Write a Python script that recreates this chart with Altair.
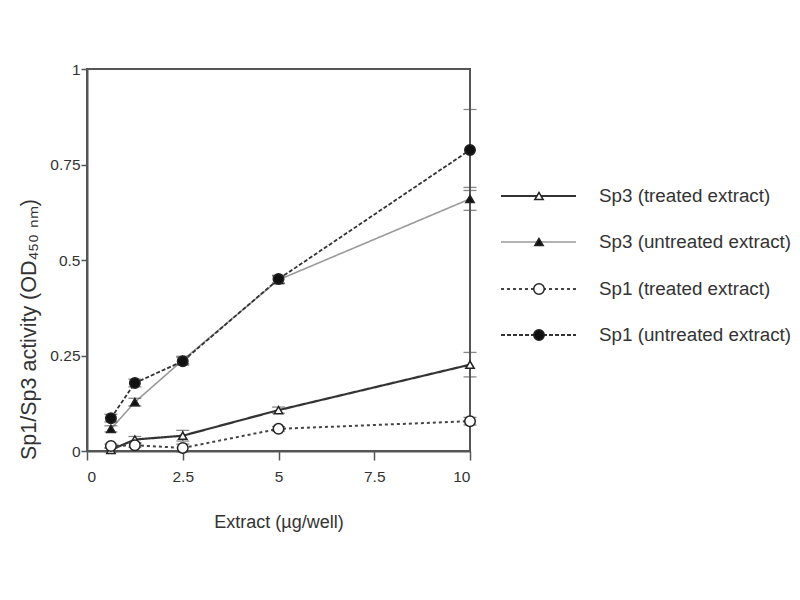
import altair as alt
import pandas as pd

# ---- data ----
x_vals = [0.625, 1.25, 2.5, 5, 10]
series_names = [
    "Sp3 (treated extract)",
    "Sp3 (untreated extract)",
    "Sp1 (treated extract)",
    "Sp1 (untreated extract)",
]
sp3_treated = [0.003, 0.030, 0.040, 0.107, 0.226]
sp3_untreated = [0.058, 0.128, 0.238, 0.448, 0.660]
sp1_treated = [0.013, 0.015, 0.008, 0.058, 0.078]
sp1_untreated = [0.086, 0.178, 0.235, 0.450, 0.788]

sp3_treated_err = [0.005, 0.008, 0.014, 0.008, 0.032]
sp3_untreated_err = [0.008, 0.010, 0.010, 0.010, 0.030]
sp1_treated_err = [0.005, 0.005, 0.010, 0.006, 0.010]
sp1_untreated_err = [0.010, 0.010, 0.010, 0.010, 0.106]

values = [sp3_treated, sp3_untreated, sp1_treated, sp1_untreated]
errors = [sp3_treated_err, sp3_untreated_err, sp1_treated_err, sp1_untreated_err]

# legend row positions (panel units)
legend_rows = [127, 173, 220, 266]

styles = [
    dict(color="#333333", dash=[1, 0], width=2.2, shape="triangle-up", filled=False, size=70),
    dict(color="#9a9a9a", dash=[1, 0], width=1.6, shape="triangle-up", filled=True, size=70),
    dict(color="#444444", dash=[3, 3], width=2.0, shape="circle", filled=False, size=110),
    dict(color="#333333", dash=[4, 2], width=1.8, shape="circle", filled=True, size=110),
]

rows = []
for name, vals, errs in zip(series_names, values, errors):
    for x, y, e in zip(x_vals, vals, errs):
        rows.append(dict(series=name, x=x, y=y, lo=y - e, hi=y + e))
df = pd.DataFrame(rows)

FONT = "Liberation Sans"
TXT = "#333333"

xscale = alt.Scale(domain=[0, 10], nice=False)
yscale = alt.Scale(domain=[0, 1], nice=False)
xaxis = alt.Axis(values=[0, 2.5, 5, 7.5, 10], labelExpr="datum.value",
                 title="Extract (µg/well)", tickSize=9, labelPadding=9,
                 titlePadding=29)
yaxis = alt.Axis(values=[0, 0.25, 0.5, 0.75, 1], labelExpr="datum.value",
                 title="Sp1/Sp3 activity (OD₄₅₀ ₙₘ)", tickSize=6, labelPadding=1,
                 titlePadding=9, titleFontSize=21.5, titleY=260)

layers = []
for name, st in zip(series_names, styles):
    base = alt.Chart(df).transform_filter(alt.datum.series == name)
    X = alt.X("x:Q", scale=xscale, axis=xaxis)
    Y = alt.Y("y:Q", scale=yscale, axis=yaxis)
    line = base.mark_line(color=st["color"], strokeWidth=st["width"],
                          strokeDash=st["dash"]).encode(x=X, y=Y)
    layers.append(line)

for name, st in zip(series_names, styles):
    base = alt.Chart(df).transform_filter(alt.datum.series == name)
    X = alt.X("x:Q", scale=xscale, axis=xaxis)
    err = base.mark_rule(color="#555555", strokeWidth=1.2).encode(
        x=X, y=alt.Y("lo:Q", scale=yscale, axis=yaxis), y2="hi:Q")
    cap_lo = base.mark_tick(color="#555555", orient="horizontal", size=13, thickness=1.3).encode(
        x=X, y=alt.Y("lo:Q", scale=yscale, axis=yaxis))
    cap_hi = base.mark_tick(color="#555555", orient="horizontal", size=13, thickness=1.3).encode(
        x=X, y=alt.Y("hi:Q", scale=yscale, axis=yaxis))
    layers += [err, cap_lo, cap_hi]

for name, st in zip(series_names, styles):
    base = alt.Chart(df).transform_filter(alt.datum.series == name)
    X = alt.X("x:Q", scale=xscale, axis=xaxis)
    Y = alt.Y("y:Q", scale=yscale, axis=yaxis)
    pts = base.mark_point(shape=st["shape"], size=st["size"], filled=True,
                          fill=("#111111" if st["filled"] else "white"),
                          stroke="#222222", strokeWidth=1.5, opacity=1).encode(x=X, y=Y)
    layers.append(pts)

main = alt.layer(*layers).properties(width=383, height=382)

# ---- legend panel ----
leg_df = pd.DataFrame(dict(label=series_names, ly=legend_rows))
LX = alt.Scale(domain=[0, 100], nice=False)
LY = alt.Scale(domain=[0, 382], reverse=True, nice=False)
leg_layers = []
for name, st in zip(series_names, styles):
    b = alt.Chart(leg_df).transform_filter(alt.datum.label == name).transform_calculate(
        x0="8", x1="83", xm="46", xt="106")
    leg_layers.append(b.mark_rule(color=st["color"], strokeWidth=st["width"],
                                  strokeDash=st["dash"]).encode(
        x=alt.X("x0:Q", scale=LX, axis=None), x2="x1:Q",
        y=alt.Y("ly:Q", scale=LY, axis=None)))
    leg_layers.append(b.mark_point(shape=st["shape"], size=st["size"], filled=True,
                                   fill=("#111111" if st["filled"] else "white"),
                                   stroke="#222222", strokeWidth=1.5, opacity=1).encode(
        x=alt.X("xm:Q", scale=LX, axis=None), y=alt.Y("ly:Q", scale=LY, axis=None)))
    leg_layers.append(b.mark_text(align="left", baseline="middle", font=FONT,
                                  fontSize=18.8, color=TXT).encode(
        x=alt.X("xt:Q", scale=LX, axis=None), y=alt.Y("ly:Q", scale=LY, axis=None),
        text="label:N"))
legend = alt.layer(*leg_layers).properties(
    width=100, height=382, view=alt.ViewBackground(strokeOpacity=0))

chart = alt.hconcat(main, legend, spacing=13).properties(
    padding={"left": 9, "top": 53, "right": 0, "bottom": 0}
).configure_view(stroke="#555555", strokeWidth=2).configure_axis(
    grid=False, domainColor="#555555", domainWidth=2, tickColor="#555555", tickWidth=1.5,
    labelFont=FONT, labelFontSize=15.5, labelColor=TXT,
    titleFont=FONT, titleFontSize=18, titleFontWeight="normal", titleColor=TXT,
)

chart.save("out.html", embed_options={"renderer": "svg", "actions": False})
